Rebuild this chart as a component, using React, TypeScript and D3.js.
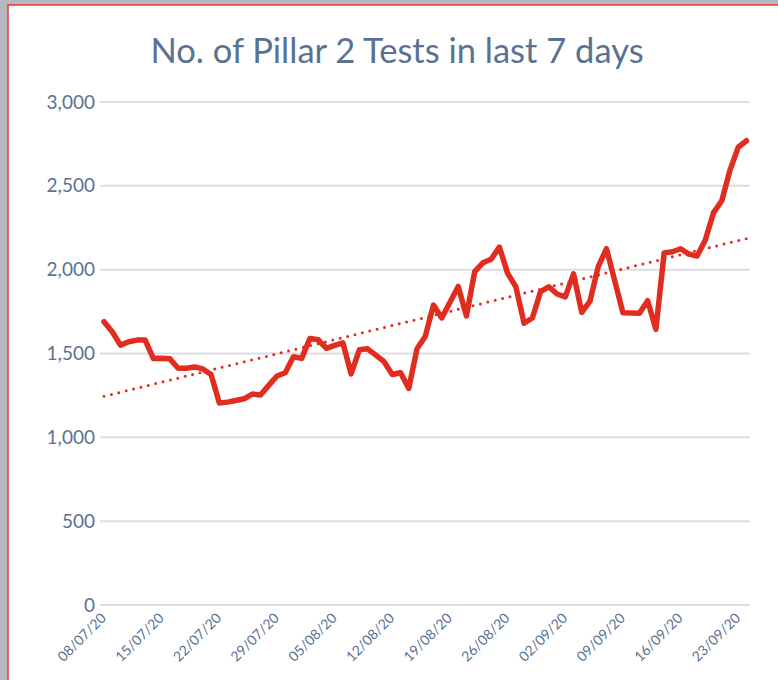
import React from 'react';
import * as d3 from 'd3';

const title = 'No. of Pillar 2 Tests in last 7 days';
const startDate = '08/07/20';

// daily totals, 08/07/20 .. 24/09/20
const tests = [
  1690, 1630, 1550, 1570, 1580, 1580, 1470, 1472, 1468, 1412,
  1412, 1420, 1408, 1375, 1205, 1210, 1220, 1230, 1258, 1252,
  1310, 1366, 1385, 1481, 1471, 1590, 1582, 1531, 1548, 1564,
  1378, 1522, 1528, 1490, 1451, 1375, 1385, 1292, 1528, 1602,
  1789, 1712, 1806, 1900, 1724, 1988, 2041, 2062, 2135, 1978,
  1898, 1680, 1712, 1869, 1898, 1855, 1838, 1975, 1745, 1812,
  2018, 2125, 1935, 1743, 1741, 1740, 1815, 1644, 2100, 2107,
  2125, 2093, 2081, 2177, 2340, 2411, 2594, 2730, 2769,
];

const tickLabels = [
  '08/07/20', '15/07/20', '22/07/20', '29/07/20', '05/08/20', '12/08/20',
  '19/08/20', '26/08/20', '02/09/20', '09/09/20', '16/09/20', '23/09/20',
];

const yTicks = [0, 500, 1000, 1500, 2000, 2500, 3000];

const W = 778;
const H = 680;
const textColor = '#5a7292';
const lineRed = '#e12d1f';
const font = 'Lato, "Open Sans", sans-serif';

const App: React.FC = () => {
  const parse = d3.timeParse('%d/%m/%y');
  const t0 = parse(startDate) as Date;
  const dates = tests.map((_, i) => d3.timeDay.offset(t0, i));

  const x = d3.scaleTime()
    .domain([dates[0], dates[dates.length - 1]])
    .range([104, 746.5]);
  const y = d3.scaleLinear().domain([0, 3000]).range([605, 102]);

  const line = d3.line<number>()
    .x((_, i) => x(dates[i]))
    .y((d) => y(d));

  // linear trendline (least squares over day index)
  const idx = tests.map((_, i) => i);
  const mx = d3.mean(idx) as number;
  const my = d3.mean(tests) as number;
  const slope =
    d3.sum(idx, (i) => (i - mx) * (tests[i] - my)) /
    d3.sum(idx, (i) => (i - mx) * (i - mx));
  const icpt = my - slope * mx;
  const n = tests.length - 1;

  return (
    <div style={{ position: 'absolute', left: 0, top: 0 }}>
      <svg width={W} height={H} style={{ display: 'block' }}>
        <rect x={0} y={0} width={W} height={H} fill="#b5b9bf" />
        <rect x={8} y={5} width={W + 20} height={H + 20} fill="#ffffff" stroke="#e5453a" strokeWidth={1.6} />

        <text x={397} y={63} textAnchor="middle" fontFamily={font} fontSize={34.5} fill={textColor}>
          {title}
        </text>

        {yTicks.map((v) => (
          <g key={v}>
            <line x1={100} x2={750} y1={y(v)} y2={y(v)} stroke="#d9dee6" strokeWidth={2} />
            <text x={95} y={y(v)} dy="0.35em" textAnchor="end" fontFamily={font} fontSize={19} fill={textColor}>
              {d3.format(',')(v)}
            </text>
          </g>
        ))}

        {tickLabels.map((lab) => {
          const tx = x(parse(lab) as Date);
          return (
            <text
              key={lab}
              transform={`translate(${tx + 3},${619}) rotate(-45)`}
              textAnchor="end"
              fontFamily={font}
              fontSize={14}
              fill={textColor}
            >
              {lab}
            </text>
          );
        })}

        <line
          x1={x(dates[0])}
          y1={y(icpt)}
          x2={x(dates[n])}
          y2={y(icpt + slope * n)}
          stroke={lineRed}
          strokeWidth={3}
          strokeLinecap="round"
          strokeDasharray="0 7.6"
        />

        <path
          d={line(tests) as string}
          fill="none"
          stroke={lineRed}
          strokeWidth={5.5}
          strokeLinejoin="round"
          strokeLinecap="round"
        />
      </svg>
    </div>
  );
};

export default App;
